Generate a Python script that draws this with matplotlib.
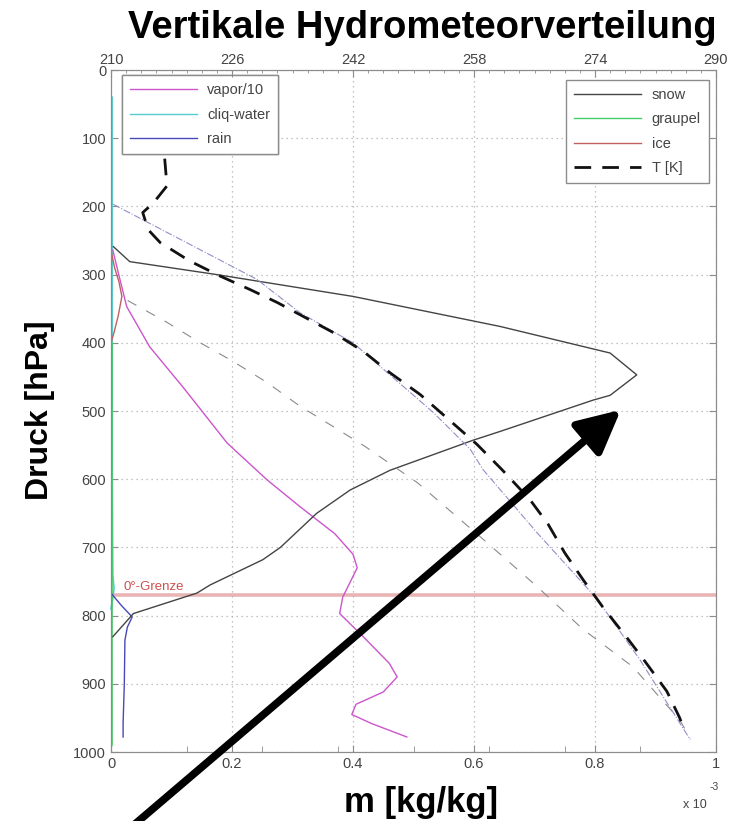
import matplotlib
matplotlib.use("Agg")
import matplotlib.pyplot as plt
from matplotlib.patches import FancyArrowPatch
from matplotlib.lines import Line2D
import numpy as np

plt.rcParams['font.family'] = ['Liberation Sans', 'DejaVu Sans']

# mixing ratios in 1e-3 kg/kg, pressure in hPa
snow_p = [259, 281, 300, 332, 376, 415, 447, 477, 484, 530, 543, 587, 616, 650, 700, 718, 755, 767, 797, 831]
snow_m = [0.004, 0.031, 0.175, 0.40, 0.643, 0.825, 0.869, 0.825, 0.797, 0.643, 0.598, 0.461, 0.395, 0.34, 0.28, 0.251, 0.164, 0.142, 0.037, 0.003]

vapor_p = [264, 308, 347, 406, 465, 547, 601, 640, 680, 710, 730, 773, 797, 831, 870, 890, 912, 930, 945, 958, 978]
vapor_m = [0.003, 0.015, 0.026, 0.064, 0.119, 0.192, 0.258, 0.312, 0.37, 0.400, 0.407, 0.383, 0.378, 0.417, 0.46, 0.473, 0.45, 0.405, 0.398, 0.43, 0.489]

rain_p = [767, 785, 802, 817, 836, 900, 958, 978]
rain_m = [0.0, 0.017, 0.035, 0.027, 0.023, 0.022, 0.02, 0.02]

cliq_p = [40, 200, 400, 600, 740, 760, 775, 790]
cliq_m = [0.002, 0.002, 0.002, 0.002, 0.003, 0.005, 0.003, 0.0]

graupel_p = [400, 550, 700, 760, 800, 900, 990]
graupel_m = [0.002, 0.002, 0.002, 0.002, 0.002, 0.002, 0.002]

ice_p = [265, 290, 310, 332, 360, 385, 400]
ice_m = [0.0, 0.006, 0.013, 0.018, 0.012, 0.005, 0.0]

# temperature profiles in K
T_p = [130, 170, 195, 209, 234, 253, 280, 302, 322, 341, 385, 412, 444, 476, 510, 549, 586, 630, 666, 708, 747, 787, 835, 867, 911, 950, 968]
T_K = [217.1, 217.4, 215.6, 214.2, 214.9, 216.5, 220.4, 224.4, 228.4, 232.0, 239.4, 243.3, 246.9, 250.9, 254.4, 258.4, 261.7, 265.4, 267.8, 270.0, 272.4, 275.0, 278.4, 280.6, 283.5, 285.2, 285.8]

Td_p = [338, 370, 400, 427, 458, 493, 523, 552, 605, 688, 757, 820, 875, 953, 980]
Td_K = [212.2, 217.4, 221.8, 226.1, 230.6, 235.0, 239.4, 243.6, 250.5, 259.2, 266.3, 272.4, 279.0, 285.2, 286.6]

adiab_p = [197, 307, 356, 400, 502, 556, 586, 678, 776, 864, 982]
adiab_K = [210.3, 229.3, 235.0, 242.0, 252.6, 257.5, 259.2, 266.3, 274.3, 279.9, 286.6]

freeze_p = 770

c_vap = '#cc55cc'
c_cliq = '#55cccc'
c_rain = '#4848b8'
c_snow = '#444444'
c_grau = '#44cc66'
c_ice = '#c06060'
c_txt = '#444444'
c_ax = '#8c8c8c'

fig = plt.figure(figsize=(7.42, 8.21), dpi=100)
ax = fig.add_axes([111/742, 1-752/821, 605/742, 682/821])
ax2 = ax.twiny()

ax.axhline(freeze_p, color='#e8b4b4', lw=2.6, zorder=1)
ax.text(0.02, freeze_p - 8, '0°-Grenze', color='#cc5050', fontsize=9.5)

ax.plot(cliq_m, cliq_p, color=c_cliq, lw=1.2, clip_on=False, zorder=4)
ax.plot(graupel_m, graupel_p, color=c_grau, lw=1.2, clip_on=False, zorder=4)
ax.plot(ice_m, ice_p, color=c_ice, lw=1.0, zorder=4)
ax.plot(vapor_m, vapor_p, color=c_vap, lw=1.0, zorder=4)
ax.plot(rain_m, rain_p, color=c_rain, lw=1.0, zorder=4)
ax.plot(snow_m, snow_p, color=c_snow, lw=1.0, zorder=4)

ax2.plot(adiab_K, adiab_p, color='#9090c8', lw=0.8, ls='-.')
ax2.plot(Td_K, Td_p, color='#8a8a8a', lw=0.8, ls=(0, (9, 10)))
ax2.plot(T_K, T_p, color='#111111', lw=2.0, ls=(0, (6, 4)))

ax.set_xlim(0, 1)
ax.set_ylim(1000, 0)
ax2.set_xlim(210, 290)

ax.set_xticks([0, 0.2, 0.4, 0.6, 0.8, 1])
ax.set_xticklabels(['0', '0.2', '0.4', '0.6', '0.8', '1'])
ax.set_xticks(np.arange(0.125, 1, 0.125), minor=True)
ax.set_yticks(np.arange(0, 1001, 100))
ax2.set_xticks(np.arange(210, 291, 16))
ax2.set_xticks(np.arange(210, 291, 2), minor=True)

ax.grid(True, which='major', color='#b0b0b0', ls=(0, (1, 3)), lw=0.9)
for a in (ax, ax2):
    for s in a.spines.values():
        s.set_color(c_ax)
ax.tick_params(which='both', direction='in', right=True, labelsize=10.5, labelcolor=c_txt, color=c_ax)
ax.tick_params(which='major', length=5)
ax.tick_params(which='minor', length=4, left=False, right=False)
ax2.tick_params(which='both', direction='in', labelsize=10.5, labelcolor=c_txt, color=c_ax, pad=2)
ax2.tick_params(which='major', length=5)
ax2.tick_params(which='minor', length=2.5)

leg_kw = dict(borderaxespad=0, fontsize=10.5, fancybox=False, edgecolor=c_ax, framealpha=1,
              handlelength=4.6, labelspacing=0.7, handletextpad=0.7, borderpad=0.55)

h_left = [Line2D([], [], color=c_vap, lw=1.0),
          Line2D([], [], color=c_cliq, lw=1.0),
          Line2D([], [], color=c_rain, lw=1.0)]
leg1 = ax.legend(h_left, ['vapor/10', 'cliq-water', 'rain'], loc='upper left',
                 bbox_to_anchor=(0.018, 0.992), **leg_kw)
for t in leg1.get_texts():
    t.set_color(c_txt)
ax.add_artist(leg1)

h_right = [Line2D([], [], color=c_snow, lw=1.0),
           Line2D([], [], color=c_grau, lw=1.0),
           Line2D([], [], color=c_ice, lw=1.0),
           Line2D([], [], color='#111111', lw=2.0, ls=(0, (6, 4)))]
leg2 = ax2.legend(h_right, ['snow', 'graupel', 'ice', 'T [K]'], loc='upper right',
                  bbox_to_anchor=(0.988, 0.985), **leg_kw)
for t in leg2.get_texts():
    t.set_color(c_txt)

fig.text(422/742, 1-38/821, 'Vertikale Hydrometeorverteilung', ha='center', va='baseline',
         fontsize=27.5, fontweight='bold')
fig.text(421/742, 1-812/821, 'm [kg/kg]', ha='center', va='baseline', fontsize=25, fontweight='bold')
fig.text(40/742, 411/821, 'Druck [hPa]', ha='center', va='center', rotation=90,
         fontsize=23, fontweight='bold')
fig.text(683/742, 1-808/821, 'x 10', fontsize=9, color=c_txt)
fig.text(710/742, 1-790/821, '-3', fontsize=7.5, color=c_txt)

arrow = FancyArrowPatch((128, 821 - 830), (623, 821 - 408), transform=None,
                        arrowstyle='-|>,head_length=1.3,head_width=0.65',
                        mutation_scale=20, lw=5.5, color='black', zorder=10)
fig.add_artist(arrow)

fig.savefig('out.png', dpi=100)
